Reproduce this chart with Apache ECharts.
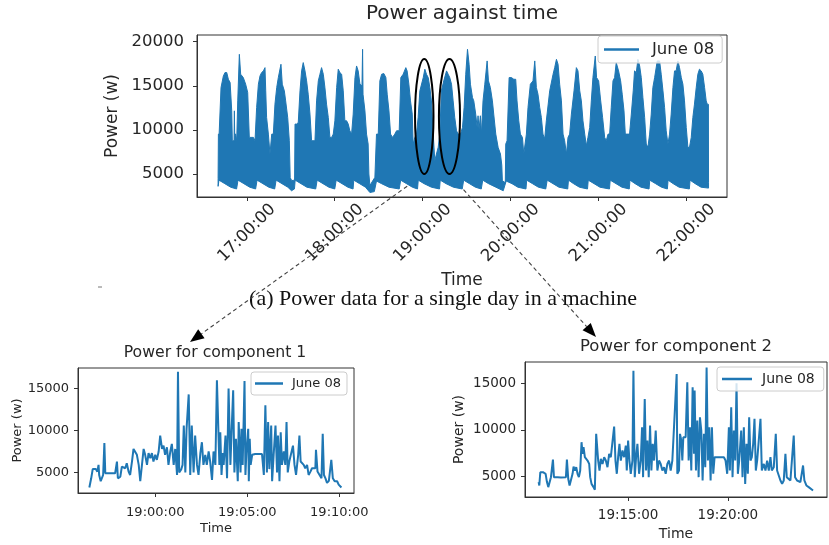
<!DOCTYPE html>
<html><head><meta charset="utf-8">
<script src="https://cdn.jsdelivr.net/npm/echarts@6/dist/echarts.min.js"></script>
<style>html,body{margin:0;padding:0;background:#fff}#c{width:829px;height:545px}</style>
</head><body><div id="c"></div>
<script>
// ---------- DATA ----------
// Top chart: dense power signal drawn as its envelope. [minutes after 16:00, watts]
const topUpper = [[40.4,4500],[40.6,9520],[41.1,9520],[42.4,14800],[44.0,16120],[45.1,16500],[46.3,16500],[47.4,15740],[48.6,15370],[49.7,12160],[50.1,8770],[51.3,8770],[51.5,12160],[51.7,9520],[52.4,9520],[53.1,8770],[53.8,13290],[54.9,18570],[55.8,16310],[57.6,15930],[59.2,15180],[60.6,14240],[61.7,9150],[64.5,9150],[65.6,8770],[66.7,12540],[67.9,15180],[69.0,16120],[70.1,16500],[71.3,16690],[72.4,17060],[72.9,14430],[73.5,11410],[74.7,9520],[75.8,7260],[77.0,9520],[78.1,9520],[79.2,12920],[80.4,14800],[81.5,15930],[83.3,17440],[84.2,15180],[85.6,14430],[86.5,13290],[87.9,11410],[89.0,8770],[89.6,4600],[90.6,4250],[92.6,4300],[92.9,10660],[94.0,10660],[95.1,10840],[96.3,14430],[97.4,16690],[98.5,17630],[99.7,16690],[100.8,15560],[101.9,14050],[103.1,11790],[104.2,8770],[106.5,8770],[107.6,13290],[108.8,15560],[109.9,16310],[111.0,17060],[112.2,16310],[113.3,14800],[114.4,12920],[115.6,11410],[116.7,9150],[117.9,9150],[119.0,9520],[120.1,11030],[121.3,14800],[122.4,16880],[123.5,16500],[124.7,16310],[125.8,14430],[126.9,11030],[128.1,11030],[129.2,10660],[130.3,9900],[131.5,9520],[132.6,11790],[133.8,15930],[134.9,17250],[136.0,16690],[137.2,15180],[138.6,15000],[139.0,19140],[139.3,14050],[140.6,12160],[141.7,9520],[142.8,8390],[143.3,5000],[144.0,3700],[147.4,4620],[148.5,9520],[149.7,9520],[150.8,15560],[152.0,16310],[153.5,16390],[154.9,15930],[155.8,14050],[157.0,12160],[158.1,9520],[159.4,9150],[161.0,9520],[162.2,9900],[164.0,9900],[165.1,15930],[166.7,16310],[168.5,17060],[169.4,16690],[170.6,15180],[171.7,13290],[172.9,11790],[173.5,8390],[174.7,9150],[175.8,9520],[176.9,11410],[178.1,14430],[180.4,15930],[181.5,16880],[182.6,16310],[183.8,15930],[184.9,14800],[186.0,13290],[187.2,9520],[188.3,6510],[189.4,7260],[190.6,8020],[191.7,9520],[192.8,14430],[194.4,15560],[196.3,16690],[197.4,16310],[198.5,15930],[199.7,15180],[200.8,13290],[201.9,11410],[203.1,9900],[204.2,9520],[205.8,9520],[207.2,10280],[208.3,12540],[209.4,16310],[210.6,19140],[211.7,17440],[212.6,15180],[214.0,13670],[214.9,13290],[216.2,11790],[217.2,10280],[217.8,11600],[218.5,10090],[219.4,11600],[220.1,9520],[221.2,13290],[222.4,15180],[224.0,17820],[224.9,15560],[226.2,14800],[227.6,13290],[228.5,11790],[229.9,9520],[231.5,8020],[233.1,7260],[234.0,6000],[234.4,4250],[236.4,4000],[236.7,8390],[237.6,8770],[239.0,15930],[240.6,15930],[242.2,15740],[243.5,15740],[244.4,13290],[245.6,11030],[246.7,9520],[248.1,9150],[249.0,7260],[250.8,9520],[251.9,12540],[253.5,15180],[255.3,15560],[256.5,17820],[257.6,14800],[258.7,14050],[259.9,12540],[261.0,11410],[262.1,9520],[263.3,9000],[264.4,11030],[266.7,14430],[269.0,16310],[270.1,17060],[271.3,18000],[272.4,17440],[273.5,15180],[274.7,13290],[275.8,9520],[276.9,8770],[278.1,7260],[279.2,9150],[280.3,9520],[281.5,11790],[283.3,14430],[284.9,17060],[286.0,16690],[287.2,14430],[288.3,13290],[289.4,11030],[290.6,9520],[291.7,8200],[292.8,9150],[294.0,10280],[295.1,13290],[296.2,15930],[297.8,18380],[298.7,15930],[300.1,15560],[301.5,13290],[302.8,11410],[304.2,9150],[305.3,8770],[306.5,9520],[307.6,9520],[308.7,12540],[309.9,15560],[311.0,15930],[312.1,17630],[313.7,16690],[315.1,15560],[316.2,14050],[317.4,12160],[318.3,9520],[321.2,9520],[322.4,11790],[323.7,14430],[324.6,16690],[325.8,16500],[326.9,18000],[328.1,17250],[329.2,15930],[330.3,13670],[331.5,11410],[332.6,8390],[333.7,8020],[334.9,9520],[336.0,11790],[337.1,14800],[338.3,15930],[340.1,17820],[341.7,17820],[342.8,16310],[344.0,14430],[345.1,12540],[346.2,9900],[347.4,8390],[348.5,9520],[349.6,11790],[350.8,14800],[351.9,16690],[353.0,16690],[354.2,17820],[355.3,17060],[356.5,15930],[357.6,15180],[358.7,13290],[359.9,10280],[361.0,8020],[362.1,8020],[363.3,9150],[364.4,11410],[365.5,12920],[366.7,14800],[367.8,16310],[368.9,16880],[370.1,16690],[371.2,16310],[372.4,14800],[373.5,13290],[374.2,12920],[375.0,12900],[375.1,4000]];
const topLower = [[40.4,3600],[41,4300],[45,3900],[49,3500],[53,3300],[54,4300],[58,3900],[62,3500],[66,3300],[67,4300],[71,3900],[75,3500],[79,3300],[80,4300],[84,3900],[88,3500],[90.5,3100],[92.5,3300],[93,4300],[97,3900],[101,3500],[107,3300],[108,4300],[112,3900],[116,3500],[120,3300],[121,4300],[125,3900],[129,3500],[132.5,3300],[133,4300],[137,3900],[141,3500],[144,2900],[147,3000],[148.5,4200],[152,3900],[157,3500],[164,3300],[165,4300],[169,3900],[173,3500],[176.5,3300],[177,4300],[181,3900],[186,3500],[191.5,3300],[192,4300],[196,3900],[201,3500],[207,3300],[208,4300],[212,3900],[216,3500],[220,3300],[221,4300],[225,3900],[230,3500],[235,3100],[237,4200],[241,3900],[245,3500],[250.5,3300],[251,4300],[255,3900],[259,3500],[264,3300],[265,4300],[269,3900],[273,3500],[279,3300],[279.5,4300],[283,3900],[287,3500],[292.5,3300],[293,4300],[297,3900],[301,3500],[307.5,3300],[308,4300],[312,3900],[316,3500],[321,3300],[321.5,4300],[325,3900],[329,3500],[334.5,3300],[335,4300],[339,3900],[343,3500],[347,3300],[347.5,4300],[351,3900],[355,3500],[362,3300],[362.5,4300],[366,3900],[370,3500],[375.1,3400]];

// Component 1: seconds after 19:00:00, watts
const comp1Sec = [-215,-209,-204,-198,-194,-189,-185,-183,-178,-174,-170,-166,-163,-158,-152,-147,-141,-136,-131,-125,-122,-114,-109,-103,-98,-93,-87,-82,-76,-71,-65,-60,-54,-49,-44,-38,-33,-27,-22,-16,-11,-6,0,5,11,16,22,27,32,38,43,49,54,60,65,71,74,78,85,89,93,98,102,109,114,119,125,130,136,141,147,152,157,163,168,174,179,185,190,196,201,209,212,216,220,223,229,234,239,245,250,254,258,263,269,272,278,281,285,291,294,297,303,305,308,311,316,321,326,337,348,354,357,359,364,368,372,378,381,386,392,397,400,405,409,413,419,424,428,432,437,443,449,454,459,466,470,474,479,484,489,495,500,506,511,522,524,529,535,542,546,550,555,560,566,571,574,579,585,593,598,607];
const comp1Power = [3200,4300,5400,5200,5400,5100,5900,4700,3950,4100,4700,8500,4900,4800,4900,5000,4900,4700,4900,6300,4300,4500,5700,5900,5500,6100,5100,4700,6300,7800,8000,7100,5900,3950,3800,7800,7100,5900,7300,6700,7300,6300,7100,6500,7500,9400,7800,8200,7100,8000,5900,7500,8400,5900,7800,4700,17000,5000,5400,5900,10600,5000,10200,14300,4700,10600,5000,9400,5900,4700,7300,8600,5900,7100,5900,7500,6300,4100,7500,5900,16000,5900,9800,4700,7300,5900,9400,4300,15000,5900,11000,14800,5000,9000,3950,11000,5000,10200,5900,15900,4700,7300,10200,3950,9000,5900,7100,7100,7200,7200,7200,4700,9800,13000,5000,11000,5400,10600,3950,7100,10600,5000,9400,3950,9800,5900,7500,5900,11000,5000,6300,6300,8200,5900,4700,7100,9400,6300,6300,5900,5500,5900,4700,5100,5500,5500,7700,5100,4900,4300,9600,4700,4300,3750,4000,4000,6500,4300,3950,3950,3550,3200];

// Component 2: seconds after 19:15:00, watts
const comp2Sec = [-269,-267,-264,-260,-256,-252,-248,-244,-240,-236,-232,-228,-226,-223,-212,-202,-187,-184,-180,-176,-172,-167,-164,-160,-156,-152,-148,-144,-140,-137,-134,-130,-126,-122,-117,-114,-110,-104,-100,-96,-90,-86,-82,-77,-72,-67,-62,-57,-52,-42,-38,-34,-30,-26,-22,-17,-12,-7,-4,0,4,8,13,16,20,24,28,33,38,42,45,50,54,58,62,66,70,74,78,83,88,93,98,103,108,113,118,123,128,133,138,146,148,153,156,160,163,166,173,178,182,186,190,194,198,200,204,208,212,216,220,224,228,232,236,240,244,248,252,256,260,268,278,288,293,298,303,306,310,314,318,322,326,330,334,340,344,348,352,356,360,364,368,372,376,380,384,388,393,398,402,408,413,418,423,428,432,438,444,448,453,458,463,468,473,477,483,488,493,498,502,508,513,518,526,530,536,543,548,556];
const comp2Power = [4400,4040,5460,5640,5460,5290,5290,4400,3860,4040,4930,5000,6820,4930,4930,4900,4930,6820,4750,4040,3930,5290,6070,5640,6000,5290,4930,5640,8680,7430,8140,7070,7250,6710,6350,4930,4210,3860,3570,9570,6710,5640,6890,6350,7070,6710,6000,7430,7070,10350,6710,5290,7070,8500,6710,7790,7070,8320,5640,8860,6710,5290,6710,16350,4930,7070,8500,5290,6710,10280,4930,13300,5640,8860,4930,10460,5640,8500,6710,9930,5640,6710,6350,5640,6000,5290,6350,6710,5640,6710,6710,16000,5290,5640,9570,8860,6710,9210,9210,15100,6710,10280,5640,14570,7430,14210,5640,11000,4930,11350,9930,4570,9570,6000,16700,6710,10280,4570,10280,5290,7070,7070,7070,7070,6710,5290,10280,5640,12430,4930,9930,6710,15000,5290,6710,9930,4930,10280,4210,8500,5290,11350,6710,7070,8500,11180,5640,6710,6710,11180,5640,6350,5640,6710,5640,7070,5640,6000,9570,5640,5640,4570,4210,4570,7430,4930,4930,4570,4750,9390,4930,4570,4400,4400,6180,4570,4040,3860,3680,3500];

const topTicksMin = [60, 120, 180, 240, 300, 360];   // minutes after 16:00
const comp1TicksSec = [0, 300, 600];                 // seconds after 19:00:00
const comp2TicksSec = [0, 300];                      // seconds after 19:15:00
const topYTicks = [5000, 10000, 15000, 20000];
const compYTicks = [5000, 10000, 15000];
const seriesName = 'June 08';
const titles = ['Power against time', 'Power for component 1', 'Power for component 2'];
const caption = '(a) Power data for a single day in a machine';
const highlight1 = {t: 181.1, dt: 6.3, v: 11520, dv: 6520};
const highlight2 = {t: 198.3, dt: 7.2, v: 11520, dv: 6520};

// ---------- CHART ----------
const BLUE = '#1f77b4';
const TXT = '#262626';
const FRAME = '#333333';
const FONT = 'DejaVu Sans';
function pad(n){ return (n < 10 ? '0' : '') + n; }
function hms(total){ total = Math.round(total); const h = Math.floor(total/3600), m = Math.floor(total%3600/60), s = total%60; return pad(h)+':'+pad(m)+':'+pad(s); }

const chart = echarts.init(document.getElementById('c'), null, {renderer: 'canvas'});

function xAxis(gi, min, max, ticks, fmt, fs, margin, nameGap, nameFs, extraLabel) {
  return {
    type: 'value', gridIndex: gi, min: min, max: max,
    axisLine: {show: true, onZero: false, lineStyle: {color: FRAME, width: 1}},
    axisTick: {show: true, customValues: ticks, length: 4, lineStyle: {color: FRAME}},
    axisLabel: Object.assign({show: true, customValues: ticks, formatter: fmt, fontSize: fs, fontFamily: FONT, color: TXT, margin: margin}, extraLabel || {}),
    splitLine: {show: false},
    name: 'Time', nameLocation: 'middle', nameGap: nameGap,
    nameTextStyle: {fontSize: nameFs, fontFamily: FONT, color: TXT}
  };
}
function yAxis(gi, min, max, ticks, fs, margin, nameGap, nameFs) {
  return {
    type: 'value', gridIndex: gi, min: min, max: max,
    axisLine: {show: true, onZero: false, lineStyle: {color: FRAME, width: 1}},
    axisTick: {show: true, customValues: ticks, length: 4, lineStyle: {color: FRAME}},
    axisLabel: {show: true, customValues: ticks, formatter: v => String(v), fontSize: fs, fontFamily: FONT, color: TXT, margin: margin},
    splitLine: {show: false},
    name: 'Power (w)', nameLocation: 'middle', nameGap: nameGap, nameRotate: 90,
    nameTextStyle: {fontSize: nameFs, fontFamily: FONT, color: TXT}
  };
}
function legend(left, top, fs, iw, padding, textPad) {
  return {
    left: left, top: top, orient: 'horizontal', selectedMode: false,
    data: [{name: seriesName, icon: 'rect'}],
    itemWidth: iw, itemHeight: 2.5, padding: padding,
    backgroundColor: 'rgba(255,255,255,0.8)', borderColor: '#cccccc', borderWidth: 1, borderRadius: 3,
    textStyle: {fontSize: fs, fontFamily: FONT, color: TXT, padding: [0, 0, 0, textPad]}
  };
}

const option = {
  animation: false,
  backgroundColor: '#ffffff',
  grid: [
    {left: 197, top: 35, width: 530, height: 162, show: true, borderColor: FRAME, borderWidth: 1, backgroundColor: 'transparent'},
    {left: 78, top: 368, width: 276, height: 125, show: true, borderColor: FRAME, borderWidth: 1, backgroundColor: 'transparent'},
    {left: 525, top: 362, width: 302, height: 135, show: true, borderColor: FRAME, borderWidth: 1, backgroundColor: 'transparent'}
  ],
  xAxis: [
    xAxis(0, 26, 387.7, topTicksMin, v => hms((16*60 + v) * 60), 16.5, 36, 75, 17, {rotate: 45, align: 'center', verticalAlign: 'middle'}),
    xAxis(1, -252, 648, comp1TicksSec, v => hms(19*3600 + v), 13, 13, 29, 13),
    xAxis(2, -310, 598, comp2TicksSec, v => hms(19*3600 + 15*60 + v), 13.5, 11, 30, 14)
  ],
  yAxis: [
    yAxis(0, 2390, 20760, topYTicks, 16.5, 13, 70, 17),
    yAxis(1, 2550, 17450, compYTicks, 13, 9, 53, 13),
    yAxis(2, 2800, 17280, compYTicks, 13.5, 9, 59, 14)
  ],
  legend: [
    legend(598, 36, 16.5, 35, [5, 8, 5, 6], 8),
    legend(251, 372, 13, 28, [5, 6, 5, 4], 4),
    legend(717, 367, 14, 30, [5, 9, 5, 5], 5)
  ],
  series: [
    {
      type: 'custom', name: seriesName, xAxisIndex: 0, yAxisIndex: 0, silent: true,
      itemStyle: {color: BLUE},
      data: topUpper,
      encode: {x: 0, y: 1},
      renderItem: function (params, api) {
        if (params.dataIndex !== 0) return null;
        const pts = topUpper.map(p => api.coord(p)).concat(topLower.slice().reverse().map(p => api.coord(p)));
        return {type: 'polygon', shape: {points: pts}, style: {fill: BLUE, stroke: BLUE, lineWidth: 1}};
      }
    },
    {
      type: 'line', name: seriesName, xAxisIndex: 1, yAxisIndex: 1, showSymbol: false, silent: true,
      data: comp1Sec.map((t, i) => [t, comp1Power[i]]),
      lineStyle: {width: 2, color: BLUE}, itemStyle: {color: BLUE}
    },
    {
      type: 'line', name: seriesName, xAxisIndex: 2, yAxisIndex: 2, showSymbol: false, silent: true,
      data: comp2Sec.map((t, i) => [t, comp2Power[i]]),
      lineStyle: {width: 2, color: BLUE}, itemStyle: {color: BLUE}
    }
  ]
};
chart.setOption(option);

// ---------- ANNOTATIONS ----------
function ellipseFor(h) {
  const c = chart.convertToPixel({gridIndex: 0}, [h.t, h.v]);
  const side = chart.convertToPixel({gridIndex: 0}, [h.t + h.dt, h.v]);
  const top = chart.convertToPixel({gridIndex: 0}, [h.t, h.v + h.dv]);
  return {cx: c[0], cy: c[1], rx: side[0] - c[0], ry: c[1] - top[1]};
}
const e1 = ellipseFor(highlight1), e2 = ellipseFor(highlight2);
function arrow(x0, y0, x1, y1) {
  const dx = x1 - x0, dy = y1 - y0, L = Math.hypot(dx, dy);
  const ux = dx / L, uy = dy / L, nx = -uy, ny = ux;
  const hl = 14, hw = 5.5;
  const bx = x1 - ux * hl, by = y1 - uy * hl;
  return [
    {type: 'line', shape: {x1: x0, y1: y0, x2: bx, y2: by}, style: {stroke: '#444', lineWidth: 1.1, lineDash: [4, 3]}, silent: true},
    {type: 'polygon', shape: {points: [[x1, y1], [bx + nx * hw, by + ny * hw], [bx - nx * hw, by - ny * hw]]}, style: {fill: '#000'}, silent: true}
  ];
}
const graphics = [
  {type: 'text', x: 462, y: 14, style: {text: titles[0], font: '20px "DejaVu Sans"', fill: TXT, align: 'center', verticalAlign: 'middle'}, silent: true},
  {type: 'text', x: 215, y: 353, style: {text: titles[1], font: '15.7px "DejaVu Sans"', fill: TXT, align: 'center', verticalAlign: 'middle'}, silent: true},
  {type: 'text', x: 676, y: 347, style: {text: titles[2], font: '16.5px "DejaVu Sans"', fill: TXT, align: 'center', verticalAlign: 'middle'}, silent: true},
  {type: 'text', x: 443, y: 299, style: {text: caption, font: '22px "Liberation Serif"', fill: '#111', align: 'center', verticalAlign: 'middle'}, silent: true},
  {type: 'line', shape: {x1: 98, y1: 287, x2: 102, y2: 287}, style: {stroke: '#777', lineWidth: 1}, silent: true},
  {type: 'ellipse', shape: e1, style: {fill: 'none', stroke: '#000', lineWidth: 2}, silent: true, z: 10},
  {type: 'ellipse', shape: e2, style: {fill: 'none', stroke: '#000', lineWidth: 2}, silent: true, z: 10}
].concat(arrow(e1.cx, e1.cy + e1.ry, 190, 342)).concat(arrow(e2.cx, e2.cy + e2.ry, 596, 337));
chart.setOption({graphic: graphics});
</script>
</body></html>
